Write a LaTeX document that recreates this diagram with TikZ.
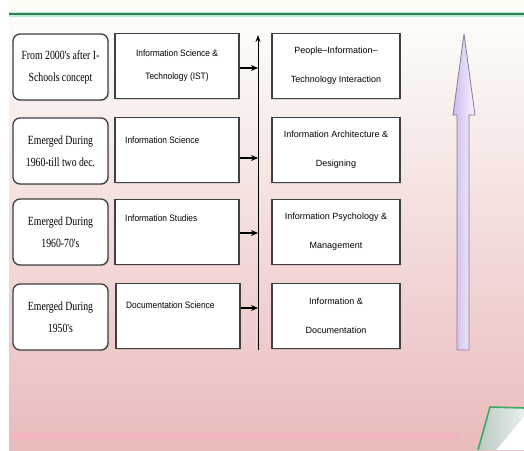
\documentclass[tikz,border=0pt]{standalone}
\usepackage{fontspec}
\setmainfont{Liberation Serif}
\newfontfamily\serifc[FakeStretch=0.78]{Liberation Serif}
\newfontfamily\sansc[FakeStretch=0.9]{Liberation Sans}
\newfontfamily\sansn{Liberation Sans}
\usetikzlibrary{shadows,arrows.meta}
\definecolor{bgtop}{RGB}{252,253,250}
\definecolor{bgmid}{RGB}{247,230,230}
\definecolor{bgbot}{RGB}{234,187,187}
\definecolor{bandpink}{RGB}{243,180,190}
\definecolor{topband}{RGB}{252,254,246}
\definecolor{greenline}{RGB}{45,130,85}
\definecolor{greenhalo}{RGB}{190,235,210}
\definecolor{lav}{RGB}{205,185,238}
\definecolor{lavlight}{RGB}{248,244,252}
\definecolor{lavedge}{RGB}{140,120,160}
\definecolor{flap}{RGB}{200,218,208}
\definecolor{curlgreen}{RGB}{60,170,100}
\tikzset{
  erabox/.style={draw=black!75, line width=1.3pt, fill=white, rounded corners=7pt,
    minimum width=95pt, minimum height=66pt, inner sep=0pt, align=center,
    font=\serifc\fontsize{12.5}{22}\selectfont,
    drop shadow={opacity=0.25, shadow xshift=1pt, shadow yshift=-1pt}},
  fieldbox/.style={draw=black!75, line width=1.3pt, fill=white,
    minimum width=124pt, minimum height=65pt, inner sep=0pt, align=center,
    font=\sansc\fontsize{9.3}{23}\selectfont,
    drop shadow={opacity=0.25, shadow xshift=1pt, shadow yshift=-1pt}},
  areabox/.style={draw=black!75, line width=1.3pt, fill=white,
    minimum width=128pt, minimum height=65pt, inner sep=0pt, align=center,
    font=\sansn\fontsize{9}{29}\selectfont,
    drop shadow={opacity=0.25, shadow xshift=1pt, shadow yshift=-1pt}},
  fieldtext/.style={anchor=west, inner sep=0pt, font=\sansc\fontsize{9.3}{23}\selectfont},
  conn/.style={line width=1.1pt, black, -{Stealth[length=7pt,width=6pt]}}
}
\begin{document}
\begin{tikzpicture}[x=1pt,y=-1pt]
\useasboundingbox (0,0) rectangle (524,450);
% background
\fill[white] (0,0) rectangle (524,450);
\fill[topband] (9,0) rectangle (524,13);
\shade[top color=bgtop, middle color=bgmid, bottom color=bgbot] (9,16) rectangle (524,450);
\fill[bandpink] (9,433) rectangle (458,439);
\draw[greenhalo, line width=5pt] (9,14) -- (524,14);
\draw[greenline, line width=2.2pt] (9,14) -- (524,14);
% page curl
\fill[white] (496,450) -- (524,416) -- (524,450) -- cycle;
\shade[left color=flap!70!black!25!flap, right color=flap!40!white] (478,450) -- (490,407) -- (524,408) -- (524,416) -- (496,450) -- cycle;
\draw[curlgreen, line width=1.6pt, line join=round] (478,450) -- (490,407) -- (524,408);

% era boxes
\node[erabox] (e1) at (60.5,67)  {From 2000's after I-\\Schools concept};
\node[erabox] (e2) at (60.5,151) {Emerged During\\1960-till two dec.};
\node[erabox] (e3) at (60.5,232) {Emerged During\\1960-70's};
\node[erabox] (e4) at (60.5,317) {Emerged During\\1950's};

% field boxes
\node[fieldbox] (f1) at (177,66)  {Information Science \&\\Technology (IST)};
\node[fieldbox] (f2) at (177,150) {};
\node[fieldbox] (f3) at (177,232) {};
\node[fieldbox] (f4) at (178,316) {};
\node[fieldtext] (t2) at (125,140) {Information Science};
\node[fieldtext] (t3) at (125,218) {Information Studies};
\node[fieldtext] (t4) at (126,305) {Documentation Science};

% area boxes
\node[areabox] (a1) at (336,66)  {People\textendash Information\textendash\\Technology Interaction};
\node[areabox] (a2) at (336,150) {Information Architecture \&\\Designing};
\node[areabox] (a3) at (336,232) {Information Psychology \&\\Management};
\node[areabox] (a4) at (336,316) {Information \&\\Documentation};

% vertical timeline
\coordinate (vbot) at (258,350);
\coordinate (vtop) at (258,35);
\draw[line width=1pt, black, -{Stealth[length=7pt,width=5pt]}] (vbot) -- (vtop);
\coordinate (v1) at (258,68);
\coordinate (v2) at (258,158);
\coordinate (v3) at (258,233);
\coordinate (v4) at (258,308);
\draw[conn] (f1.east |- v1) -- (v1);
\draw[conn] (f2.east |- v2) -- (v2);
\draw[conn] (f3.east |- v3) -- (v3);
\draw[conn] (f4.east |- v4) -- (v4);

% big arrow
\shadedraw[left color=lav, right color=lavlight, draw=lavedge, line width=0.8pt, line join=round]
  (457,350) -- (457,115) -- (453,115) -- (464,34) -- (475,115) -- (469,115) -- (469,350) -- cycle;
\end{tikzpicture}
\end{document}
